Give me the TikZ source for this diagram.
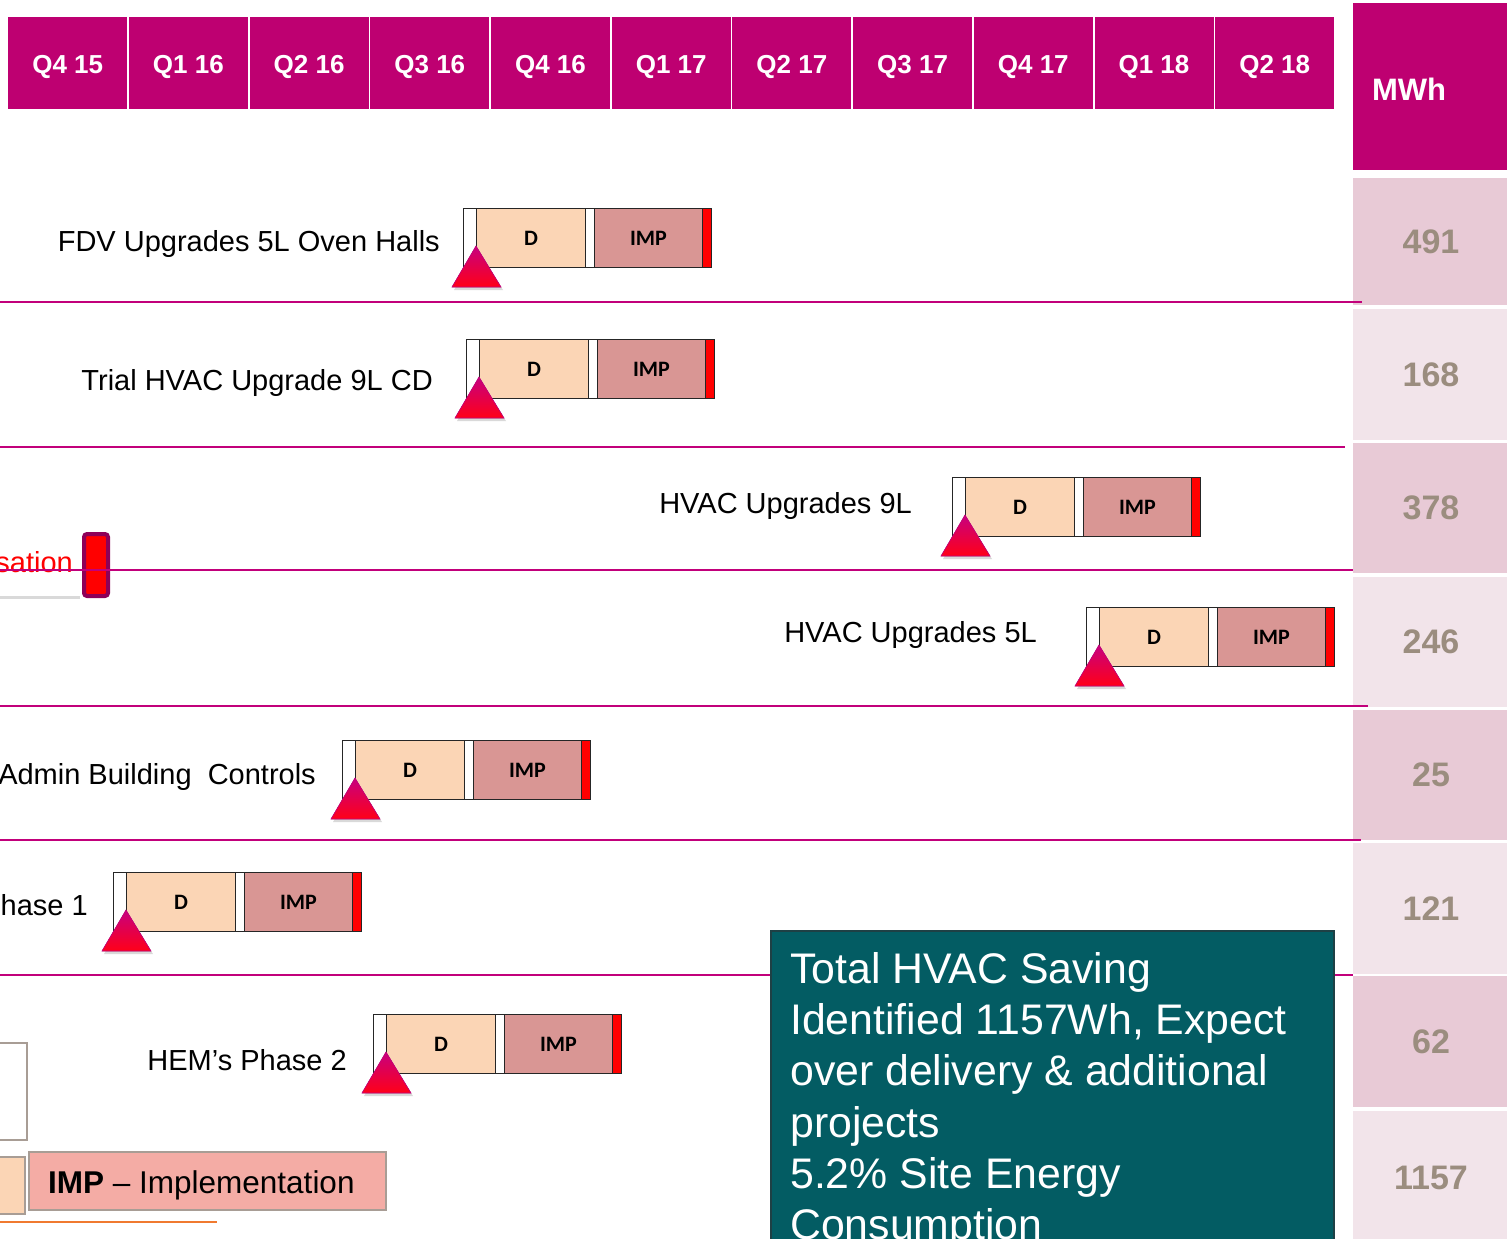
\documentclass[tikz,border=0pt]{standalone}
\usepackage{fontspec}
\setmainfont{Liberation Sans}
\newfontfamily\calibri{Carlito}
\usepackage{xcolor}
\usetikzlibrary{positioning,shadows,calc}

\definecolor{qmagenta}{HTML}{BE0071}
\definecolor{sepmagenta}{HTML}{C2007B}
\definecolor{rowdark}{HTML}{E8CAD6}
\definecolor{rowlight}{HTML}{F2E4EA}
\definecolor{valgray}{HTML}{9B8D7F}
\definecolor{dpeach}{HTML}{FBD5B5}
\definecolor{improse}{HTML}{D99694}
\definecolor{notefill}{HTML}{035C63}
\definecolor{noteedge}{HTML}{1E4045}
\definecolor{legpink}{HTML}{F4ACA5}
\definecolor{leggray}{HTML}{A89D95}
\definecolor{optpurple}{HTML}{8E0058}
\definecolor{lineorange}{HTML}{F07A30}
\definecolor{msmagenta}{HTML}{C8007F}
\definecolor{msred}{HTML}{FF0018}

\begin{document}
\begin{tikzpicture}[x=1pt,y=-1pt,
    qcell/.style={fill=qmagenta, text=white, inner sep=0, minimum width=119pt, minimum height=92pt,
        text depth=0pt, font=\fontsize{26}{30}\selectfont\bfseries},
    valcell/.style={inner sep=0, minimum width=156pt, text=valgray, font=\fontsize{34}{40}\selectfont\bfseries},
    barline/.style={draw=black!85, line width=0.9pt},
    dcell/.style={barline, fill=dpeach, inner sep=0, minimum width=109pt, minimum height=59pt,
        font=\fontsize{22}{26}\selectfont\calibri\bfseries},
    impcell/.style={barline, fill=improse, inner sep=0, minimum width=108pt, minimum height=59pt,
        font=\fontsize{22}{26}\selectfont\calibri\bfseries},
    endcell/.style={barline, fill=red, inner sep=0, minimum width=9pt, minimum height=59pt},
    milestone/.style={draw=msmagenta, line width=0.6pt, top color=msmagenta, bottom color=msred,
        drop shadow={opacity=0.3, shadow xshift=2pt, shadow yshift=-3pt}},
    tasklabel/.style={inner sep=0, font=\fontsize{29}{34}\selectfont},
    sepline/.style={draw=sepmagenta, line width=2pt}]
  \useasboundingbox (0,0) rectangle (1507,1239);
  \clip (0,0) rectangle (1507,1239);

  % Drawing quarter header
  \foreach \q [count=\i from 0] in {Q4 15,Q1 16,Q2 16,Q3 16,Q4 16,Q1 17,Q2 17,Q3 17,Q4 17,Q1 18,Q2 18}
    \node[qcell, anchor=north west] (q\i) at (8+120.7*\i,17) {\raisebox{-3pt}{\q}};

  % Drawing MWh column
  \fill[qmagenta] (1353,3) rectangle (1510,170);
  \node[inner sep=0, text=white, font=\fontsize{31}{36}\selectfont\bfseries] (mwh) at (1409,89) {MWh};
  \foreach \top/\bot/\val/\shade in {178/305/491/rowdark, 309/440/168/rowlight, 443/573/378/rowdark,
      577/707/246/rowlight, 710/840/25/rowdark, 843/974/121/rowlight, 976/1107/62/rowdark, 1111/1245/1157/rowlight}
    \node[valcell, fill=\shade, minimum height=\bot-\top] (v\val) at (1431,{(\top+\bot)/2}) {\raisebox{-1pt}{\val}};

  % Marking partial label on the left
  \fill[white, drop shadow={opacity=0.3, shadow xshift=0pt, shadow yshift=-3pt}] (-20,522) rectangle (80,596);
  \node[tasklabel, anchor=base east, text=red] (opt) at (73,572) {sation};
  \draw[line width=4pt, draw=optpurple, fill=red, rounded corners=3pt] (84,534) rectangle (108,596);

  % Drawing bars D and IMP
  \foreach \bx/\by/\bn in {463/208/fdv, 466/339/trial, 952/477/nine, 1086/607/five,
      342/740/admin, 113/872/hemone, 373/1014/hemtwo}{
    \draw[barline, fill=white] (\bx,\by) rectangle ++(248,59);
    \node[dcell, anchor=north west] (d\bn) at (\bx+13,\by) {\raisebox{-2pt}{D}};
    \node[impcell, anchor=north west] (imp\bn) at (\bx+131,\by) {\raisebox{-2pt}{IMP}};
    \node[endcell, anchor=north west] (end\bn) at (\bx+239,\by) {};
    \filldraw[milestone] (\bx+13,\by+38) -- (\bx-11,\by+79) -- (\bx+38,\by+79) -- cycle;
  }

  % Marking task labels
  \node[tasklabel, anchor=base east] (lfdv) at (440,251) {FDV Upgrades 5L Oven Halls};
  \node[tasklabel, anchor=base east] (ltrial) at (433,390) {Trial HVAC Upgrade 9L CD};
  \node[tasklabel, anchor=base east] (lnine) at (912,513) {HVAC Upgrades 9L};
  \node[tasklabel, anchor=base east] (lfive) at (1037,642) {HVAC Upgrades 5L};
  \node[tasklabel, anchor=base east] (ladmin) at (316,784) {Admin Building\ \ Controls};
  \node[tasklabel, anchor=base east] (lhemone) at (88,915) {Phase 1};
  \node[tasklabel, anchor=base east] (lhemtwo) at (347,1070) {HEM’s Phase 2};

  % Drawing row separators
  \draw[sepline] (0,302) -- (1362,302);
  \draw[sepline] (0,447) -- (1345,447);
  \draw[sepline] (0,570) -- (1353,570);
  \draw[sepline] (0,706) -- (1368,706);
  \draw[sepline] (0,840) -- (1361,840);
  \draw[sepline] (0,975) -- (1353,975);

  % Drawing legend
  \draw[draw=leggray, line width=2pt, fill=white] (-5,1043) rectangle (27,1140);
  \draw[draw=leggray, line width=2pt, fill=dpeach] (-5,1157) rectangle (25,1214);
  \draw[draw=leggray, line width=2pt, fill=legpink] (29,1152) rectangle (386,1210);
  \node[tasklabel, anchor=base west, font=\fontsize{31.5}{36}\selectfont] (legimp) at (48,1193) {\textbf{IMP} -- Implementation};
  \draw[draw=lineorange, line width=1.5pt] (0,1222) -- (217,1222);

  % Drawing saving note
  \draw[draw=noteedge, line width=2pt, fill=notefill] (771,931) rectangle (1334,1250);
  \node[anchor=north west, align=left, inner sep=0, text=white, font=\fontsize{42.8}{51.3}\selectfont] (note) at (790,952)
    {Total HVAC Saving\\Identified 1157Wh, Expect\\over delivery \& additional\\projects\\5.2\% Site Energy\\Consumption};
\end{tikzpicture}
\end{document}
